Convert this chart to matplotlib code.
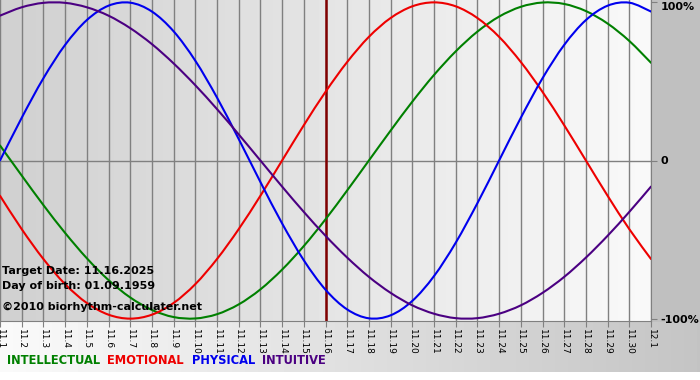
import numpy as np
import matplotlib
matplotlib.use("Agg")
import matplotlib.pyplot as plt
from matplotlib.path import Path
from matplotlib.patches import PathPatch

# days shown on the x axis (11.1 ... 12.1)
dates = ["11.%d" % d for d in range(1, 31)] + ["12.1"]

# biorhythm values in percent, one per day
intellectual = [9.5, -9.5, -28.2, -45.8, -61.8, -75.6, -86.6, -94.5, -99.0, -99.9,
                -97.2, -91.0, -81.5, -69.0, -54.1, -37.2, -18.9, 0.0, 18.9, 37.2,
                54.1, 69.0, 81.5, 91.0, 97.2, 99.9, 99.0, 94.5, 86.6, 75.6, 61.8]
emotional = [-22.3, -43.4, -62.3, -78.2, -90.1, -97.5, -100.0, -97.5, -90.1, -78.2,
             -62.3, -43.4, -22.3, 0.0, 22.3, 43.4, 62.3, 78.2, 90.1, 97.5,
             100.0, 97.5, 90.1, 78.2, 62.3, 43.4, 22.3, 0.0, -22.3, -43.4, -62.3]
physical = [0.0, 27.0, 52.0, 73.1, 88.8, 97.9, 99.8, 94.2, 81.7, 63.1,
            39.8, 13.6, -13.6, -39.8, -63.1, -81.7, -94.2, -99.8, -97.9, -88.8,
            -73.1, -52.0, -27.0, 0.0, 27.0, 52.0, 73.1, 88.8, 97.9, 99.8, 94.2]
intuitive = [91.6, 96.9, 99.7, 99.7, 96.9, 91.6, 83.7, 73.6, 61.4, 47.6,
             32.5, 16.5, 0.0, -16.5, -32.5, -47.6, -61.4, -73.6, -83.7, -91.6,
             -96.9, -99.7, -99.7, -96.9, -91.6, -83.7, -73.6, -61.4, -47.6, -32.5, -16.5]

target_idx = dates.index("11.16")

series = [
    ("INTELLECTUAL", intellectual, "#008000"),
    ("EMOTIONAL", emotional, "#ee0000"),
    ("PHYSICAL", physical, "#0000ee"),
    ("INTUITIVE", intuitive, "#4b0082"),
]


def smooth_path(xs, ys):
    # catmull-rom through the daily points, drawn as cubic bezier segments
    xs = np.asarray(xs, float)
    ys = np.asarray(ys, float)
    pts = np.column_stack([xs, ys])
    verts = [pts[0]]
    codes = [Path.MOVETO]
    n = len(pts)
    for i in range(n - 1):
        p0 = pts[i - 1] if i > 0 else pts[i]
        p1 = pts[i]
        p2 = pts[i + 1]
        p3 = pts[i + 2] if i + 2 < n else pts[i + 1]
        c1 = p1 + (p2 - p0) / 6.0
        c2 = p2 - (p3 - p1) / 6.0
        verts += [c1, c2, p2]
        codes += [Path.CURVE4] * 3
    return Path(verts, codes)


W, H = 700, 380
fig = plt.figure(figsize=(W / 100, H / 100), dpi=100)
fig.patch.set_facecolor("white")

# figure background: gray strip on the right, gradient band at the bottom
bg = fig.add_axes([0, 0, 1, 1], zorder=-5)
img = np.ones((H, W)) * 255
img[:322, 651:] = 192
band = np.linspace(250, 196, W)
img[322:372, :] = band[None, :]
bg.imshow(img, cmap="gray", vmin=0, vmax=255, aspect="auto",
          extent=(0, W, H, 0), interpolation="bilinear")
bg.set_xlim(0, W)
bg.set_ylim(H, 0)
bg.axis("off")

ax = fig.add_axes([0, 59 / H, 651 / W, 321 / H])
x = np.arange(len(dates))

# plot area gradient (gray on the left, near white on the right)
grad = np.linspace(208, 249, 200)[None, :]
ax.imshow(grad, cmap="gray", vmin=0, vmax=255, aspect="auto",
          extent=(0, len(dates) - 1, -101.5, 101.5), zorder=0)

for xi in x:
    ax.axvline(xi, color="#808080", lw=1, zorder=1)
ax.axhline(0, color="#808080", lw=1, zorder=1)
ax.axvline(target_idx, color="#800000", lw=1.8, zorder=2)

for name, vals, col in series:
    patch = PathPatch(smooth_path(x, vals), fill=False, edgecolor=col,
                      lw=1.5, zorder=3, capstyle="round")
    ax.add_patch(patch)

ax.set_xlim(0, len(dates) - 1)
ax.set_ylim(-101.5, 101.5)

ax.set_xticks(x)
ax.set_xticklabels(dates, rotation=-90, fontsize=6.5)
ax.tick_params(axis="x", direction="out", length=4, color="#808080", pad=2)

ax.yaxis.tick_right()
ax.set_yticks([100, 0, -100])
ax.set_yticklabels(["100%", "0", "-100%"], fontsize=8, fontweight="bold")
ax.tick_params(axis="y", direction="out", length=4, color="#808080", pad=3)
ylabels = ax.get_yticklabels()
ylabels[0].set_va("top")
ylabels[0].set_y(101.5)

for s in ["left", "top"]:
    ax.spines[s].set_visible(False)
for s in ["right", "bottom"]:
    ax.spines[s].set_color("#808080")

# info text in the lower left
info = ["Target Date: 11.16.2025", "Day of birth: 01.09.1959"]
fig.text(2 / W, 1 - 271 / H, info[0], fontsize=8, fontweight="bold", va="center")
fig.text(2 / W, 1 - 286 / H, info[1], fontsize=8, fontweight="bold", va="center")
fig.text(2 / W, 1 - 307 / H, "\u00a92010 biorhythm-calculater.net",
         fontsize=8, fontweight="bold", va="center")

# legend as coloured words
legend_x = [7, 107, 192, 262]
for (name, vals, col), lx in zip(series, legend_x):
    fig.text(lx / W, 1 - 361 / H, name, color=col, fontsize=8.3,
             fontweight="bold", va="center")

fig.savefig("out.png", dpi=100)
